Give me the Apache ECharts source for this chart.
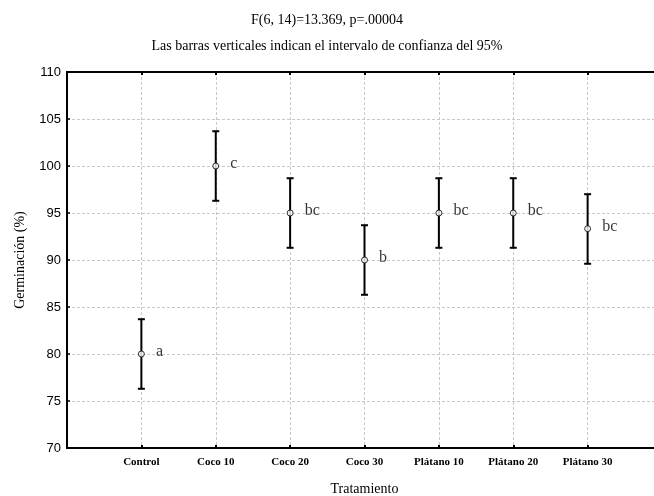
<!DOCTYPE html>
<html><head><meta charset="utf-8">
<script src="https://cdn.jsdelivr.net/npm/echarts@6/dist/echarts.min.js"></script>
<style>html,body{margin:0;padding:0;background:#fff}#c{width:654px;height:496px}</style>
</head><body><div id="c"></div>
<script>
const categories = ['Control','Coco 10','Coco 20','Coco 30','Plátano 10','Plátano 20','Plátano 30'];
const means = [80.0, 100.0, 95.0, 90.0, 95.0, 95.0, 93.33];
const lower = [76.3, 96.3, 91.3, 86.3, 91.3, 91.3, 89.6];
const upper = [83.7, 103.7, 98.7, 93.7, 98.7, 98.7, 97.0];
const letters = ['a','c','bc','b','bc','bc','bc'];
const yTicks = [70, 75, 80, 85, 90, 95, 100, 105, 110];

const serif = '"Liberation Serif", "Times New Roman", serif';
const sans = '"Liberation Sans", Arial, sans-serif';

const pts = means.map((m, i) => ({ value: [i + 1, m], label: { formatter: letters[i] } }));
const bars = means.map((m, i) => [i + 1, lower[i], upper[i]]);

const chart = echarts.init(document.getElementById('c'), null, { renderer: 'canvas' });
chart.setOption({
  animation: false,
  backgroundColor: '#fff',
  title: [
    { text: 'F(6, 14)=13.369, p=.00004', left: 'center', top: 8,
      textStyle: { fontFamily: serif, fontSize: 14, fontWeight: 'normal', color: '#000' } },
    { text: 'Las barras verticales indican el intervalo de confianza del 95%', left: 'center', top: 34,
      textStyle: { fontFamily: serif, fontSize: 14, fontWeight: 'normal', color: '#000' } }
  ],
  grid: { left: 67, top: 72, width: 595, height: 376, outerBoundsMode: 'none', containLabel: false },
  xAxis: [{
    type: 'value', min: 0, max: 8, interval: 1, position: 'bottom',
    name: 'Tratamiento', nameLocation: 'middle', nameGap: 34,
    nameTextStyle: { fontFamily: serif, fontSize: 14, color: '#000' },
    axisLine: { lineStyle: { color: '#000', width: 2 } },
    axisTick: { inside: true, length: 3, lineStyle: { color: '#000', width: 2 } },
    axisLabel: { fontFamily: serif, fontWeight: 'bold', fontSize: 11, color: '#000', margin: 9,
      formatter: v => (v >= 1 && v <= 7) ? categories[v - 1] : '' },
    splitLine: { show: true, lineStyle: { color: '#c8c8c8', type: [3, 2], width: 1 } }
  }, {
    type: 'value', min: 0, max: 8, interval: 1, position: 'top',
    axisLine: { lineStyle: { color: '#000', width: 2 } },
    axisTick: { inside: true, length: 3, lineStyle: { color: '#000', width: 2 } },
    axisLabel: { show: false }, splitLine: { show: false }
  }],
  yAxis: {
    type: 'value', min: 70, max: 110, interval: 5,
    name: 'Germinación (%)', nameLocation: 'middle', nameGap: 40,
    nameTextStyle: { fontFamily: serif, fontSize: 14, color: '#000' },
    axisLine: { show: true, lineStyle: { color: '#000', width: 2 } },
    axisTick: { show: true, inside: true, length: 3, lineStyle: { color: '#000', width: 1.5 } },
    axisLabel: { fontFamily: sans, fontSize: 13, color: '#000', margin: 6,
      formatter: v => yTicks.includes(v) ? String(v) : '' },
    splitLine: { show: true, lineStyle: { color: '#c8c8c8', type: [3, 2], width: 1 } }
  },
  series: [{
    type: 'custom',
    data: bars,
    z: 3,
    renderItem: (params, api) => {
      const x = api.value(0);
      const lo = api.coord([x, api.value(1)]);
      const hi = api.coord([x, api.value(2)]);
      const w = 3.5;
      const st = { stroke: '#000', lineWidth: 2 };
      return { type: 'group', children: [
        { type: 'line', shape: { x1: lo[0], y1: lo[1], x2: hi[0], y2: hi[1] }, style: st },
        { type: 'line', shape: { x1: lo[0] - w, y1: lo[1], x2: lo[0] + w, y2: lo[1] }, style: st },
        { type: 'line', shape: { x1: hi[0] - w, y1: hi[1], x2: hi[0] + w, y2: hi[1] }, style: st }
      ]};
    }
  }, {
    type: 'scatter',
    data: pts,
    z: 5,
    symbol: 'circle', symbolSize: 6,
    itemStyle: { color: '#fff', borderColor: '#000', borderWidth: 1 },
    label: { show: true, position: 'right', distance: 11, offset: [0, -2],
      fontFamily: serif, fontSize: 16, color: '#000' }
  }]
});
</script></body></html>
